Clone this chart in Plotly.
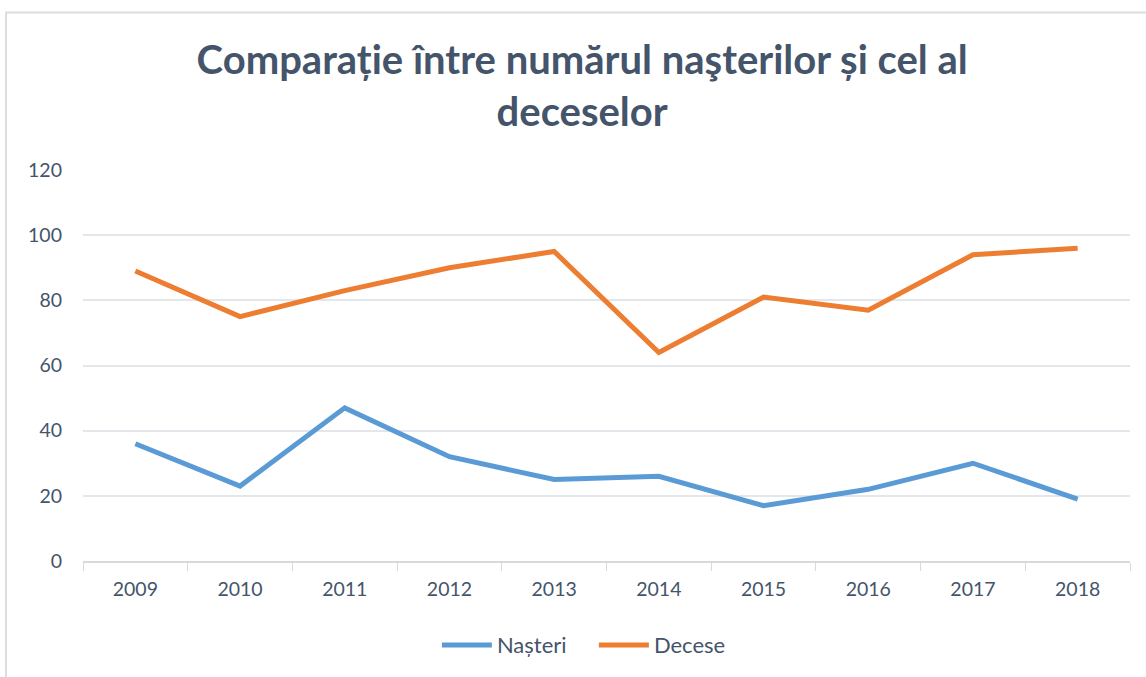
import plotly.graph_objects as go

years = ["2009", "2010", "2011", "2012", "2013", "2014", "2015", "2016", "2017", "2018"]
nasteri = [36, 23, 47, 32, 25, 26, 17, 22, 30, 19]
decese = [89, 75, 83, 90, 95, 64, 81, 77, 94, 96]

txt = "#44546a"
fig = go.Figure()
fig.add_trace(go.Scatter(x=years, y=nasteri, mode="lines", name="Nașteri",
                         line=dict(color="#5b9bd5", width=5)))
fig.add_trace(go.Scatter(x=years, y=decese, mode="lines", name="Decese",
                         line=dict(color="#ed7d31", width=5)))

fig.update_layout(
    width=1146, height=677,
    margin=dict(l=83, r=16, t=170, b=115),
    paper_bgcolor="white", plot_bgcolor="white",
    font=dict(family="Lato, Open Sans, sans-serif", color=txt, size=19),
    title=dict(text="<b>Comparație între numărul naşterilor și cel al<br>deceselor</b>",
               xref="container", x=0.508, xanchor="center",
               yref="container", y=1 - 74 / 677, yanchor="middle",
               font=dict(size=40, color=txt)),
    xaxis=dict(type="category", range=[-0.5, 9.5], showgrid=False, showline=True,
               linecolor="#d9d9d9", linewidth=1.5, ticks="outside", tickson="boundaries",
               ticklen=8, tickcolor="#d9d9d9", tickfont=dict(size=19.5, color=txt),
               ticklabelstandoff=10),
    yaxis=dict(range=[0, 120], dtick=20, showgrid=True, gridcolor="#e3e6ea",
               gridwidth=1.5, zeroline=False, showline=False,
               tickfont=dict(size=19.5, color=txt), ticklabelstandoff=20),
    legend=dict(orientation="h", xanchor="left", x=0.338, yanchor="middle", y=-0.212,
                font=dict(size=22, color=txt), entrywidth=92, entrywidthmode="pixels",
                itemwidth=50),
    showlegend=True,
)
fig.add_shape(type="rect", xref="paper", yref="paper",
              x0=-0.0735, x1=1.03, y0=-0.35, y1=1.403,
              line=dict(color="#dadde2", width=2), fillcolor="rgba(0,0,0,0)", layer="below")

fig.write_html("out.html", config={"displayModeBar": False},
               post_script="document.body.style.margin='0';")
